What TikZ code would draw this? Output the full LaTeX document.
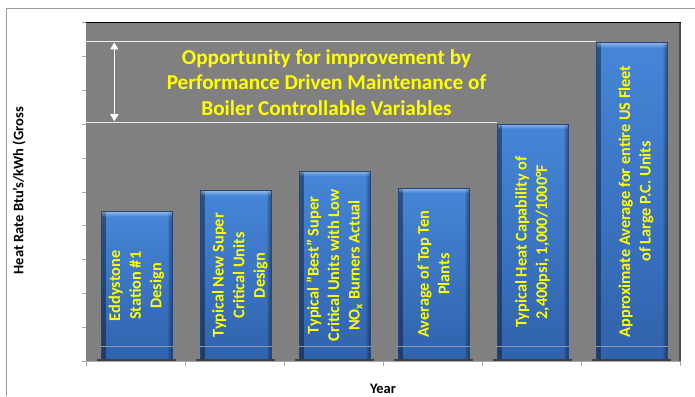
\documentclass[tikz,border=0pt]{standalone}
\usepackage{fontspec}
\setmainfont{Carlito}
\usetikzlibrary{arrows.meta,fadings}
\definecolor{plotgray}{HTML}{808080}
\definecolor{bartop}{HTML}{4686D8}
\definecolor{barbot}{HTML}{3062AC}
\definecolor{baredge}{HTML}{23467E}
\definecolor{framegray}{HTML}{9A9A9A}
\definecolor{tickgray}{HTML}{A8A8A8}
\definecolor{floorline}{HTML}{8C97A8}
\definecolor{labyellow}{HTML}{FFFF00}
\tikzset{
  barbox/.style={minimum width=71pt, inner sep=0pt, outer sep=0pt, anchor=south west,
    top color=bartop, bottom color=barbot, draw=baredge, line width=0.6pt,
    path picture={
      \fill[black, path fading=east, fill opacity=0.4] (path picture bounding box.south west) rectangle ([xshift=5pt]path picture bounding box.north west);
      \fill[black, path fading=west, fill opacity=0.4] (path picture bounding box.south east) rectangle ([xshift=-5pt]path picture bounding box.north east);
      \fill[white, path fading=south, fill opacity=0.4] (path picture bounding box.north west) rectangle ([yshift=-5pt]path picture bounding box.north east);
    }},
  barlabel/.style={rotate=90, align=center, text=labyellow, inner sep=0pt,
    font=\fontsize{16.3}{20.6}\selectfont\bfseries},
  barshadow/.style={draw=black!75, line width=1.2pt},
  floorln/.style={draw=floorline, line width=0.6pt},
  guide/.style={draw=white!92!black, line width=1.4pt},
  tickln/.style={draw=tickgray, line width=0.6pt},
  whitearrow/.style={draw=white, line width=1.3pt, {Triangle[width=8pt,length=7pt]}-{Triangle[width=8pt,length=7pt]}},
  axlabel/.style={font=\fontsize{14.5}{17}\selectfont\bfseries, text=black, inner sep=0pt},
}
\begin{document}
\begin{tikzpicture}[x=1pt,y=-1pt]
\useasboundingbox (0,0) rectangle (695,396);
\fill[white] (0,0) rectangle (695,396);
% outer frame
\coordinate (frTL) at (6,8);
\coordinate (frBL) at (6,396);
\coordinate (frTR) at (695,8);
\draw[framegray, line width=0.8pt] (frBL) -- (frTL) -- (frTR);
% plot area
\fill[plotgray] (86,22.7) rectangle (680,361);
\draw[black, line width=1pt] (86,22.7) -- (680.5,22.7);
\draw[black!70, line width=1.6pt] (680,22.7) -- (680,361);
\draw[tickgray, line width=0.6pt] (86,361) -- (680,361);
% y ticks
\foreach \i in {0,...,10} {
  \draw[tickln] (81.5,{22.7+33.83*\i}) -- (86,{22.7+33.83*\i});
}
% x ticks
\foreach \i in {0,...,6} {
  \draw[tickln] ({86+99*\i},361) -- ({86+99*\i},366);
}
% guide lines
\coordinate (hiL) at (86,41.3);
\coordinate (loL) at (86,122.3);
% bars
\node[barbox, minimum height=148.3pt] (b1) at (101,360) {};
\node[barbox, minimum height=169.3pt] (b2) at (200,360) {};
\node[barbox, minimum height=189pt] (b3) at (299,360) {};
\node[barbox, minimum height=172pt] (b4) at (398,360) {};
\node[barbox, minimum height=236pt] (b5) at (497,360) {};
\node[barbox, minimum height=317.3pt] (b6) at (596,360) {};
\foreach \b in {b1,b2,b3,b4,b5,b6} {
  \draw[barshadow] ([xshift=-4pt]\b.south west) -- ([xshift=4pt]\b.south east);
  \draw[floorln] ([xshift=-1pt,yshift=13.3pt]\b.south west) -- ([xshift=1pt,yshift=13.3pt]\b.south east);
}
\draw[guide] (hiL) -- (hiL -| b6.west);
\draw[guide] (loL) -- (loL -| b5.west);
\coordinate (arT) at (114.3,42.5);
\coordinate (arB) at (114.3,121.2);
\draw[whitearrow] (arT) -- (arB);
% title
\node[align=center, text=labyellow, inner sep=0pt, font=\fontsize{21.2}{25.5}\selectfont\bfseries] (title) at (326.5,82.5)
  {Opportunity for improvement by\\Performance Driven Maintenance of\\Boiler Controllable Variables};
% bar labels
\node[barlabel] (l1) at (b1.center) {Eddystone\\Station \#1\\Design};
\node[barlabel] (l2) at ([xshift=4.5pt]b2.center) {Typical New Super\\Critical Units\\Design};
\node[barlabel] (l3) at (b3.center) {Typical "Best" Super\\Critical Units with Low\\NO\textsubscript{x} Burners Actual};
\node[barlabel] (l4) at (b4.center) {Average of Top Ten\\Plants};
\node[barlabel] (l5) at (b5.center) {Typical Heat Capability of\\2,400psi, 1,000/1000°F};
\node[barlabel] (l6) at ([xshift=4.5pt]b6.center) {Approximate Average for entire US Fleet\\of Large P.C. Units};
% axis labels
\node[axlabel, rotate=90] (ylab) at (19,190.7) {Heat Rate Btu's/kWh (Gross};
\node[axlabel, anchor=base] (xlab) at (383,393.5) {Year};
\end{tikzpicture}
\end{document}
